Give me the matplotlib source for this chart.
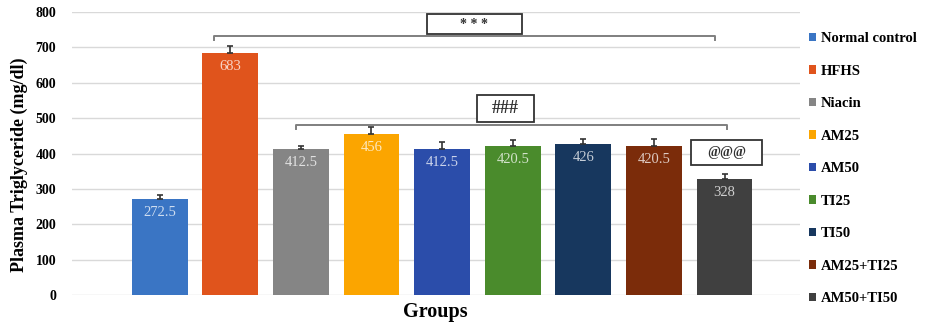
import matplotlib.pyplot as plt
from matplotlib.patches import Rectangle
import numpy as np

# Дані
groups = ['Normal control', 'HFHS', 'Niacin', 'AM25', 'AM50', 'TI25', 'TI50',
          'AM25+TI25', 'AM50+TI50']
tg_mean = [272.5, 683, 412.5, 456, 412.5, 420.5, 426, 420.5, 328]
tg_err = [10, 22, 10, 20, 21, 19, 15, 21, 14]
value_labels = ['272.5', '683', '412.5', '456', '412.5', '420.5', '426', '420.5', '328']
colors = ['#3A75C4', '#E0541C', '#858585', '#FBA500', '#2B4DAA', '#4A8B2C',
          '#17375E', '#7B2C0A', '#404040']

serif = ['Liberation Serif', 'DejaVu Serif']

fig = plt.figure(figsize=(9.3, 3.26), dpi=100)
ax = fig.add_axes([0.077, 0.095, 0.783, 0.868])

x = np.arange(len(groups))
bars = ax.bar(x, tg_mean, width=0.79, color=colors, zorder=2)
ax.errorbar(x, tg_mean, yerr=[np.zeros(len(tg_err)), tg_err], fmt='none',
            ecolor='#333333', elinewidth=1.2, capsize=2, capthick=1.2, zorder=3)

# Підписи значень всередині стовпців
for xi, v, lab, c in zip(x, tg_mean, value_labels, colors):
    rgb = np.array(plt.matplotlib.colors.to_rgb(c))
    light = 1 - (1 - rgb) * 0.25
    ax.annotate(lab, (xi, v), xytext=(0, -5), textcoords='offset points',
                ha='center', va='top', fontsize=10.5, color=light,
                family=serif, zorder=4)

ax.set_xlim(-1.246, 9.065)
ax.set_ylim(0, 800)
ax.set_yticks(range(0, 801, 100))
ax.set_xticks([])
for lab in ax.get_yticklabels():
    lab.set_family(serif)
    lab.set_fontweight('bold')
    lab.set_fontsize(10)
ax.tick_params(axis='y', length=0, pad=11)
ax.grid(axis='y', color='#D9D9D9', linewidth=1, zorder=0)
for s in ax.spines.values():
    s.set_visible(False)

ax.set_ylabel('Plasma Triglyceride (mg/dl)', family=serif, fontweight='bold',
              fontsize=13)
ax.yaxis.set_label_coords(-0.06, 0.46)
ax.set_xlabel('Groups', family=serif, fontweight='bold', fontsize=14.5, labelpad=5)

# Дужки значущості
def bracket(x0, x1, y, drop=12):
    ax.plot([x0, x0, x1, x1], [y - drop, y, y, y - drop], color='#7F7F7F',
            lw=1.4, zorder=3, clip_on=False)

def tag(x0, x1, y0, y1, text, size):
    ax.add_patch(Rectangle((x0, y0), x1 - x0, y1 - y0, facecolor='white',
                           edgecolor='#333333', lw=1.3, zorder=5, clip_on=False))
    ax.text((x0 + x1) / 2, (y0 + y1) / 2, text, ha='center', va='center',
            fontsize=size, fontweight='bold', family=serif, color='#333333', zorder=6)

bracket(x[1] - 0.23, x[8] - 0.13, 733)
bracket(x[2] - 0.07, x[8] + 0.03, 480)
tag(3.78, 5.13, 737, 794, '* * *', 10)
tag(4.50, 5.30, 489, 565, '###', 13)
tag(7.52, 8.53, 367, 438, '@@@', 10)

fig.legend(bars, groups, loc='upper left', bbox_to_anchor=(0.856, 0.942),
           frameon=False, handlelength=0.5, handleheight=0.5, handletextpad=0.3,
           labelspacing=1.34, prop={'family': serif, 'weight': 'bold', 'size': 10.5})

plt.savefig('out.png', dpi=100)
